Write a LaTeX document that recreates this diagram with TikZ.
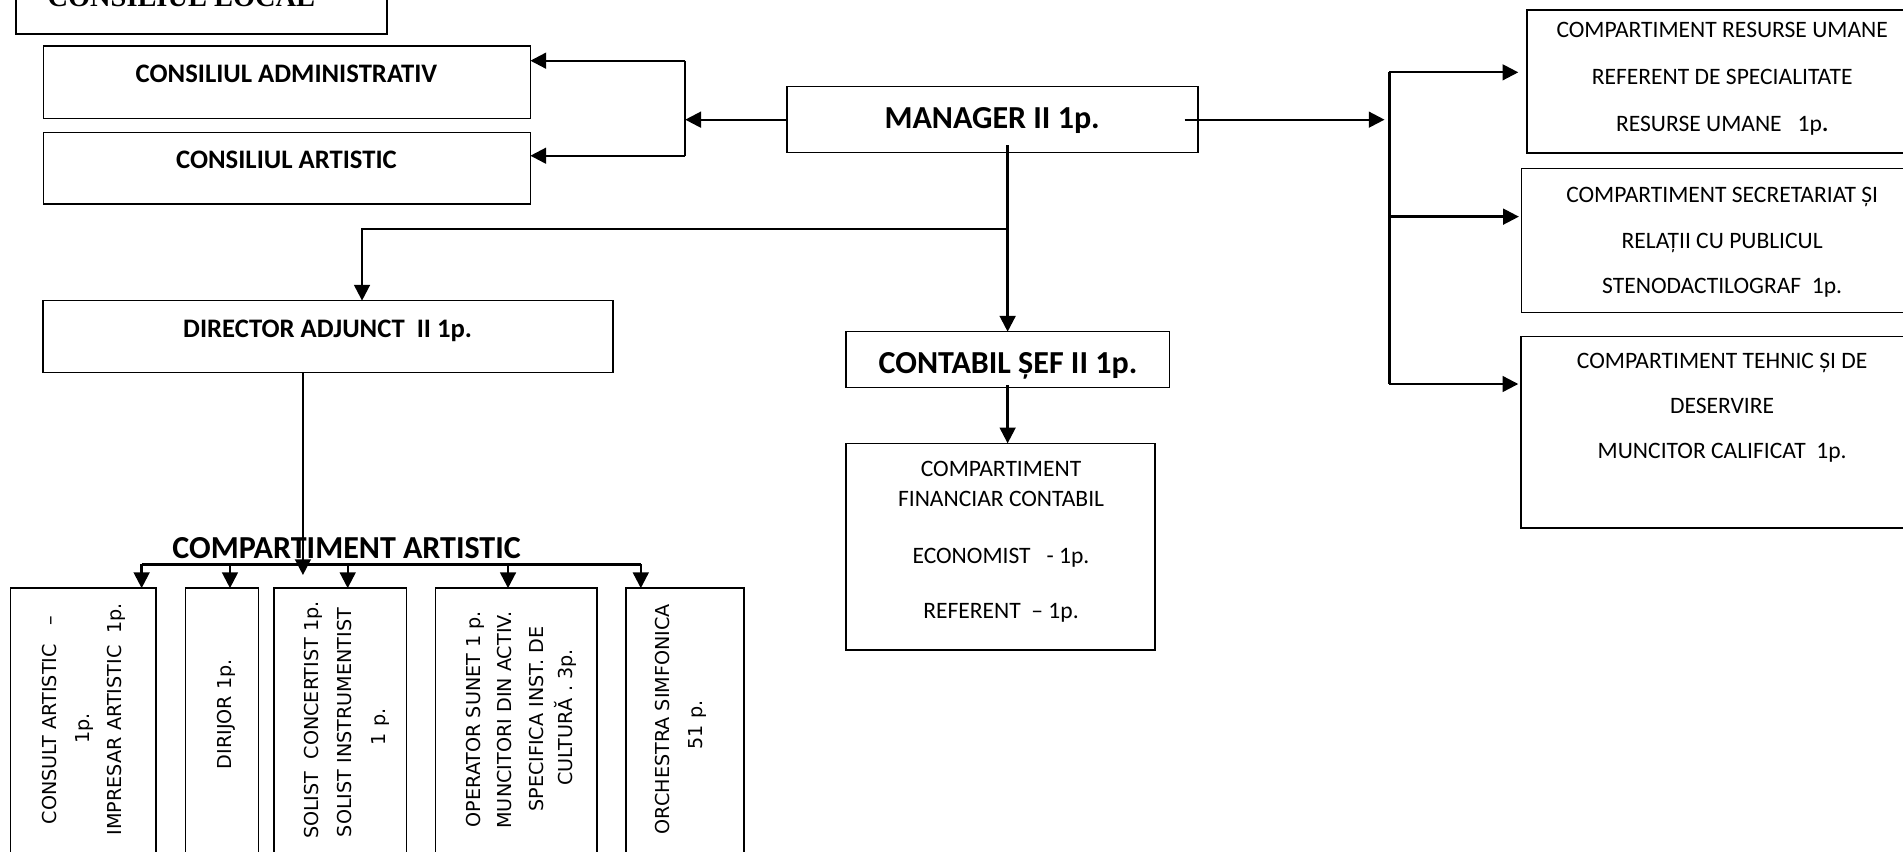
\documentclass[tikz,border=0pt]{standalone}
\usepackage{fontspec}
\setmainfont{Carlito}
\newfontfamily\vertfont{DejaVu Sans}
\newfontfamily\titlefont{Liberation Serif}
\usepackage{tikz}
\usetikzlibrary{arrows.meta}

\begin{document}
\begin{tikzpicture}[x=1pt,y=-1pt,
		>={Triangle[length=13pt,width=13pt]},
		box/.style={draw,line width=1.3pt,inner sep=0pt,outer sep=0pt,anchor=north west},
		conn/.style={line width=1.9pt},
		head/.style={font=\fontsize{22}{26}\selectfont\bfseries,anchor=base},
		big/.style={font=\fontsize{26.4}{30}\selectfont\bfseries,anchor=base},
		txt/.style={font=\fontsize{19.4}{23}\selectfont,anchor=base},
		vtxt/.style={font=\vertfont\fontsize{15.8}{19}\selectfont,anchor=base,rotate=90}]
	
	\useasboundingbox (0,0) rectangle (1568,702);
	
	% boxes, placed by their top left corner
	\node[box,minimum width=306pt,minimum height=48pt] (loc) at (13,-20) {};
	\node[box,minimum width=401pt,minimum height=59.5pt] (adm) at (36,38) {};
	\node[box,minimum width=401pt,minimum height=59pt] (art) at (36,109.3) {};
	\node[box,minimum width=338.5pt,minimum height=54.4pt] (mgr) at (648.5,71.4) {};
	\node[box,minimum width=469.7pt,minimum height=59.3pt] (dir) at (35.3,247.7) {};
	\node[box,minimum width=266.5pt,minimum height=45.9pt] (cont) at (697,273.3) {};
	\node[box,minimum width=254.7pt,minimum height=170.3pt] (fin) at (697,365.3) {};
	\node[box,minimum width=324pt,minimum height=117.8pt] (hr) at (1258,8.2) {};
	\node[box,minimum width=331.5pt,minimum height=118.7pt] (sec) at (1253.5,138.7) {};
	\node[box,minimum width=332pt,minimum height=157.6pt] (teh) at (1253,277.4) {};
	
	% compartiment artistic, cut by the page
	\node[box,minimum width=119.8pt,minimum height=240pt] (consult) at (8.8,484.6) {};
	\node[box,minimum width=60pt,minimum height=240pt] (dirijor) at (153,484.6) {};
	\node[box,minimum width=109pt,minimum height=240pt] (solist) at (226,484.6) {};
	\node[box,minimum width=133pt,minimum height=240pt] (operator) at (359,484.6) {};
	\node[box,minimum width=97pt,minimum height=240pt] (orch) at (516,484.6) {};
	
	% texts
	\node[font=\titlefont\fontsize{23.4}{28}\selectfont\bfseries,anchor=base west] (locText) at (35.7,5) {CONSILIUL LOCAL};
	\node[head] (admText) at (236,68) {CONSILIUL ADMINISTRATIV};
	\node[head] (artText) at (236,139) {CONSILIUL ARTISTIC};
	\node[big] (mgrText) at (817.5,105.5) {MANAGER II 1p.};
	\node[head] (dirText) at (270,278) {DIRECTOR ADJUNCT~~II 1p.};
	\node[big] (contText) at (830.5,307.5) {CONTABIL ȘEF II 1p.};
	\node[big] (caText) at (285.6,460) {COMPARTIMENT ARTISTIC};
	
	\node[txt] (fin1) at (824.8,392.8) {COMPARTIMENT};
	\node[txt] (fin2) at (824.8,417.5) {FINANCIAR CONTABIL};
	\node[txt] (fin3) at (824.8,464) {ECONOMIST~~~- 1p.};
	\node[txt] (fin4) at (824.8,509.5) {REFERENT~~– 1p.};
	
	\node[txt] (hr1) at (1419,31) {COMPARTIMENT RESURSE UMANE};
	\node[txt] (hr2) at (1419,69.5) {REFERENT DE SPECIALITATE};
	\node[txt] (hr3) at (1419,108) {RESURSE UMANE~~~1p\textbf{.}};
	\node[txt] (sec1) at (1419,167) {COMPARTIMENT SECRETARIAT ȘI};
	\node[txt] (sec2) at (1419,205) {RELAȚII CU PUBLICUL};
	\node[txt] (sec3) at (1419,242) {STENODACTILOGRAF~~1p.};
	\node[txt] (teh1) at (1419,304) {COMPARTIMENT TEHNIC ȘI DE};
	\node[txt] (teh2) at (1419,341) {DESERVIRE};
	\node[txt] (teh3) at (1419,378) {MUNCITOR CALIFICAT~~1p.};
	
	\node[vtxt] (con1) at (46.5,593.5) {CONSULT ARTISTIC~~~–};
	\node[vtxt] (con2) at (73.5,600) {1p.};
	\node[vtxt] (con3) at (100.5,592.5) {IMPRESAR ARTISTIC~~1p.};
	\node[vtxt] (dirij) at (191,588.5) {DIRIJOR 1p.};
	\node[vtxt] (sol1) at (262.5,593.3) {SOLIST~~CONCERTIST 1p.};
	\node[vtxt] (sol2) at (290,595.3) {SOLIST INSTRUMENTIST};
	\node[vtxt] (sol3) at (317.5,598.8) {1 p.};
	\node[vtxt] (op1) at (395.5,592.6) {OPERATOR SUNET 1 p.};
	\node[vtxt] (op2) at (421.5,593.3) {MUNCITORI DIN ACTIV.};
	\node[vtxt] (op3) at (447.5,592.6) {SPECIFICA INST. DE};
	\node[vtxt] (op4) at (472,591.2) {CULTURĂ . 3p.};
	\node[vtxt] (orc1) at (552,592.5) {ORCHESTRA SIMFONICA};
	\node[vtxt] (orc2) at (579,597.4) {51 p.};
	
	% points where the lines split
	\coordinate (brT) at (564.6,50);
	\coordinate (brB) at (564.6,128.3);
	\coordinate (rsT) at (1144.8,59.6);
	\coordinate (rsM) at (1144.8,178.5);
	\coordinate (rsB) at (1144.8,316.4);
	\coordinate (split) at (830.25,188.4);
	\coordinate (dirIn) at (298.3,188.4);
	\coordinate (dirDrop) at (249.6,473.8);
	\coordinate (bus1) at (116.7,465);
	\coordinate (bus2) at (189.5,465);
	\coordinate (bus3) at (286.5,465);
	\coordinate (bus4) at (418.6,465);
	\coordinate (bus5) at (528,465);
	
	% manager to the councils
	\draw[conn,->] (mgr.west) -- (mgr.west -| brT);
	\draw[line width=1.3pt] (brT) -- (brB);
	\draw[conn,->] (brT) -- (brT -| adm.east);
	\draw[conn,->] (brB) -- (brB -| art.east);
	
	% manager to the compartments on the right
	\draw[conn,->] ([xshift=-11pt]mgr.east) -- ([xshift=-4pt]mgr.east -| rsT);
	\draw[conn] (rsT) -- (rsB);
	\draw[conn,->] (rsT) -- ([xshift=-7pt]rsT -| hr.west);
	\draw[conn,->] (rsM) -- ([xshift=-2pt]rsM -| sec.west);
	\draw[conn,->] (rsB) -- ([xshift=-2pt]rsB -| teh.west);
	
	% manager down
	\draw[conn,->] ([yshift=6pt]mgr.south -| cont.north) -- (cont.north);
	\draw[conn,->] (split) -- (dirIn) -- (dirIn |- dir.north);
	\draw[conn,->] ([yshift=2pt]cont.south) -- (cont.south |- fin.north);
	
	% director to the artistic compartment
	\draw[conn,->] (dir.south -| dirDrop) -- (dirDrop);
	\draw[conn] (bus1) -- (bus5);
	\draw[conn,->] (bus1) -- (bus1 |- consult.north);
	\draw[conn,->] (bus2) -- (bus2 |- dirijor.north);
	\draw[conn,->] (bus3) -- (bus3 |- solist.north);
	\draw[conn,->] (bus4) -- (bus4 |- operator.north);
	\draw[conn,->] (bus5) -- (bus5 |- orch.north);
	
\end{tikzpicture}
\end{document}
